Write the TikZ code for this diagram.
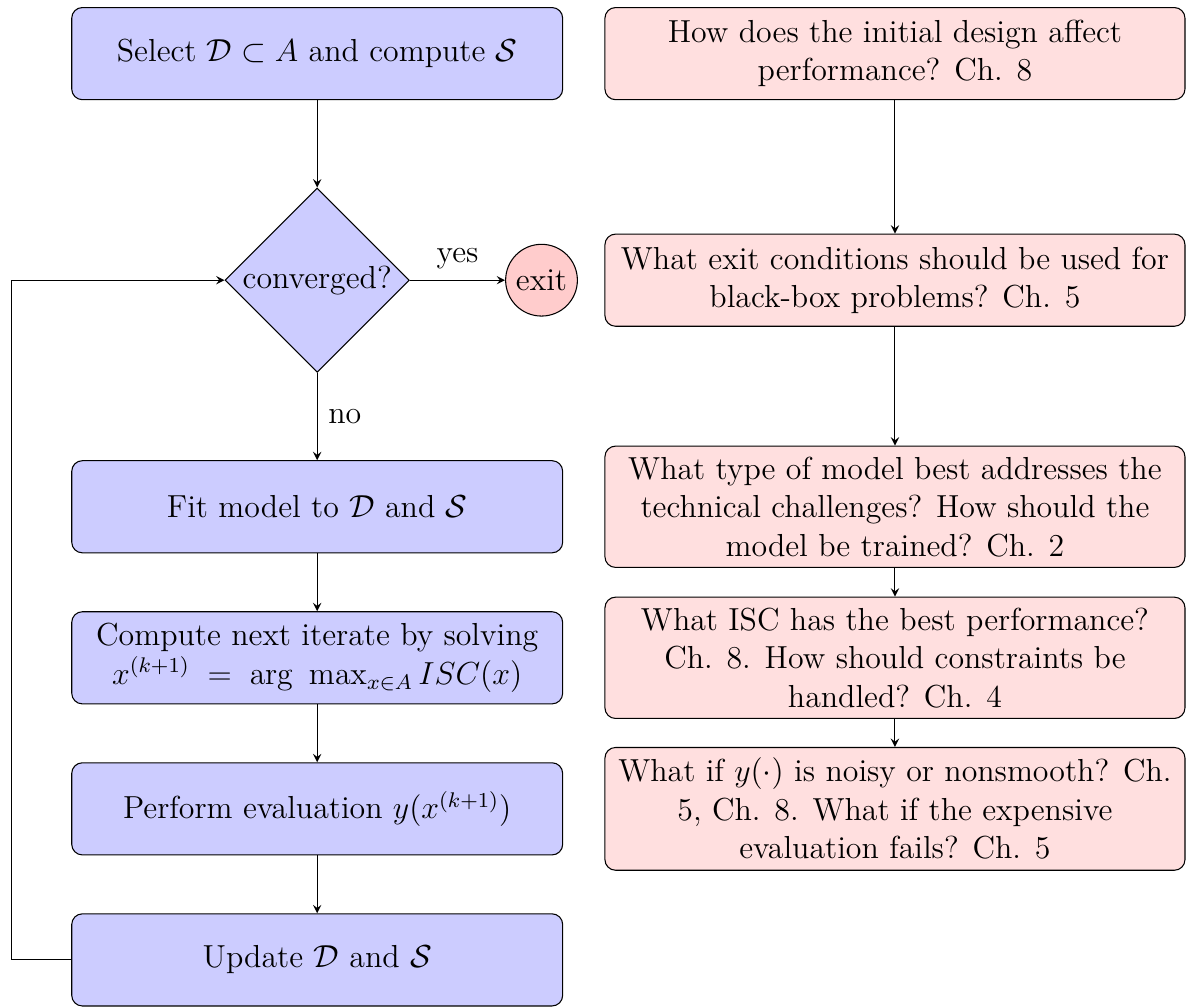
\documentclass[tikz,border=0pt,12pt]{standalone}
\usepackage{amsmath}
\usepackage{amssymb}
\usepackage{tikz}
\usetikzlibrary{positioning, shapes, shapes.geometric, arrows.meta, calc}

\begin{document}
\begin{tikzpicture}[
    process/.style = {rectangle, rounded corners, draw, fill=blue!20, minimum width=6.5cm, minimum height=1.22cm, align=center},
    question/.style = {rectangle, rounded corners, draw, fill=pink!50, minimum width=7.68cm, minimum height=1.22cm, align=center},
    decision/.style = {diamond, draw, fill=blue!20, aspect=1, minimum size=2.44cm, inner sep=0pt},
    stop/.style = {circle, draw, fill=red!20, minimum size=0.95cm, inner sep=1pt},
    arr/.style = {->, >=stealth}
]
\useasboundingbox (0,0.71) rectangle (15.77,-12.63);

% Algorithm loop
\node[process] (select) at (4.2,0) {Select $\mathcal{D} \subset A$ and compute $\mathcal{S}$};
\node[decision] (conv) at (4.2,-3) {converged?};
\node[stop] (exit) at (7.17,-3) {exit};
\node[process] (fit) at (4.2,-6) {Fit model to $\mathcal{D}$ and $\mathcal{S}$};
\node[process] (next) at (4.2,-8) {Compute next iterate by solving\\ $x^{(k+1)} \;=\; \arg\ \max_{x\in A} ISC(x)$};
\node[process] (eval) at (4.2,-10) {Perform evaluation $y(x^{(k+1)})$};
\node[process] (update) at (4.2,-12) {Update $\mathcal{D}$ and $\mathcal{S}$};
\coordinate (back) at (0.15,-3);

\draw[arr] (select) -- (conv);
\draw[arr] (conv) -- node[above] {yes} (exit);
\draw[arr] (conv) -- node[right] {no} (fit);
\draw[arr] (fit) -- (next);
\draw[arr] (next) -- (eval);
\draw[arr] (eval) -- (update);
\draw[arr] (update.west) -| (back) -- (conv.west);

% Open questions
\node[question] (q1) at (11.85,0) {How does the initial design affect\\ performance? Ch. 8};
\node[question] (q2) at (11.85,-3) {What exit conditions should be used for\\ black-box problems? Ch. 5};
\node[question] (q3) at (11.85,-6) {What type of model best addresses the\\ technical challenges? How should the\\ model be trained? Ch. 2};
\node[question] (q4) at (11.85,-8) {What ISC has the best performance?\\ Ch. 8. How should constraints be\\ handled? Ch. 4};
\node[question] (q5) at (11.85,-10) {What if $y(\cdot)$ is noisy or nonsmooth? Ch.\\ 5, Ch. 8. What if the expensive\\ evaluation fails? Ch. 5};

\draw[arr] (q1) -- (q2);
\draw[arr] (q2) -- (q3);
\draw[arr] (q3) -- (q4);
\draw[arr] (q4) -- (q5);

\end{tikzpicture}
\end{document}
